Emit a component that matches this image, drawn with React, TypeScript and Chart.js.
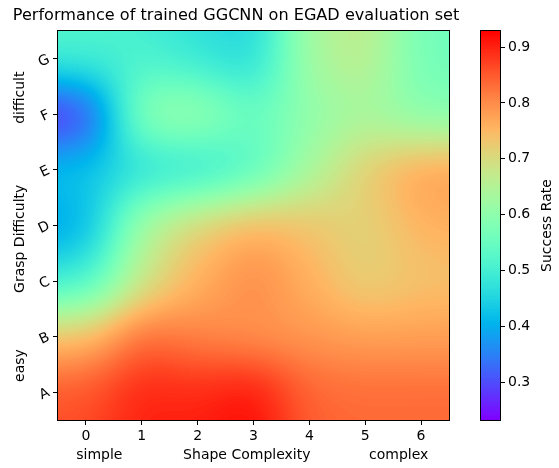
import React, { useEffect, useRef } from 'react';
import { Chart, registerables } from 'chart.js';

Chart.register(...registerables);

// ---- data ----
const TITLE = 'Performance of trained GGCNN on EGAD evaluation set';
const X_TICKS = [0, 1, 2, 3, 4, 5, 6];
const Y_TICK_LABELS = ['A', 'B', 'C', 'D', 'E', 'F', 'G'];
const X_TITLE = 'Shape Complexity';
const X_LOW = 'simple';
const X_HIGH = 'complex';
const Y_TITLE = 'Grasp Difficulty';
const Y_LOW = 'easy';
const Y_HIGH = 'difficult';
const CB_TITLE = 'Success Rate';

// success rate per grasp difficulty row (A = easy ... G = difficult), columns = shape complexity 0..6
const ROW_A = [0.86, 0.906, 0.9, 0.929, 0.84, 0.836, 0.837];
const ROW_B = [0.744, 0.844, 0.807, 0.785, 0.787, 0.778, 0.779];
const ROW_C = [0.48, 0.68, 0.76, 0.81, 0.76, 0.71, 0.736];
const ROW_D = [0.375, 0.65, 0.73, 0.77, 0.74, 0.705, 0.76];
const ROW_E = [0.437, 0.45, 0.45, 0.51, 0.63, 0.73, 0.79];
const ROW_F = [0.232, 0.63, 0.64, 0.55, 0.6, 0.63, 0.58];
const ROW_G = [0.523, 0.5, 0.47, 0.44, 0.64, 0.68, 0.555];
const ROWS = [ROW_A, ROW_B, ROW_C, ROW_D, ROW_E, ROW_F, ROW_G];

const CB_MIN = 0.232;
const CB_MAX = 0.929;
const CB_TICKS = [0.3, 0.4, 0.5, 0.6, 0.7, 0.8, 0.9];

const FONT = "'DejaVu Sans', sans-serif";

function rainbow(t: number): [number, number, number] {
  t = Math.max(0, Math.min(1, t));
  t = Math.round(t * 255) / 255;
  const r = Math.min(1, Math.abs(2 * t - 0.5));
  const g = Math.sin(Math.PI * t);
  const b = Math.cos((Math.PI * t) / 2);
  return [Math.round(r * 255), Math.round(g * 255), Math.round(b * 255)];
}

function kernel(d: number) {
  return Math.exp(-1.6 * d * d);
}

const heatmapPlugin = {
  id: 'heatmap',
  beforeDatasetsDraw(chart: any) {
    const { ctx, chartArea: a, scales } = chart;
    const xs = scales.x;
    const ys = scales.y;
    const pts = chart.data.datasets[0].data as { x: number; y: number; v: number }[];
    const cols = Array.from(new Set(pts.map((p) => p.x))).sort((p, q) => p - q);
    const rows = Array.from(new Set(pts.map((p) => p.y))).sort((p, q) => p - q);
    const M: number[][] = rows.map(() => cols.map(() => 0));
    pts.forEach((p) => {
      M[rows.indexOf(p.y)][cols.indexOf(p.x)] = p.v;
    });
    const w = Math.round(a.right - a.left);
    const h = Math.round(a.bottom - a.top);
    const off = document.createElement('canvas');
    off.width = w;
    off.height = h;
    const octx = off.getContext('2d')!;
    const img = octx.createImageData(w, h);
    const wxs: number[][] = [];
    for (let px = 0; px < w; px++) {
      const xv = xs.getValueForPixel(a.left + px + 0.5);
      const ws = cols.map((c) => kernel(xv - c));
      const s = ws.reduce((p, q) => p + q, 0);
      wxs.push(ws.map((v) => v / s));
    }
    for (let py = 0; py < h; py++) {
      const yv = ys.getValueForPixel(a.top + py + 0.5);
      const wy = rows.map((r) => kernel(yv - r));
      const sy = wy.reduce((p, q) => p + q, 0);
      const rowMix = cols.map((_, i) => {
        let s = 0;
        for (let j = 0; j < rows.length; j++) s += (wy[j] / sy) * M[j][i];
        return s;
      });
      for (let px = 0; px < w; px++) {
        const wx = wxs[px];
        let v = 0;
        for (let i = 0; i < cols.length; i++) v += wx[i] * rowMix[i];
        const [r, g, b] = rainbow((v - CB_MIN) / (CB_MAX - CB_MIN));
        const k = (py * w + px) * 4;
        img.data[k] = r;
        img.data[k + 1] = g;
        img.data[k + 2] = b;
        img.data[k + 3] = 255;
      }
    }
    octx.putImageData(img, 0, 0);
    ctx.save();
    ctx.drawImage(off, a.left, a.top);
    ctx.restore();
  },
  afterDraw(chart: any) {
    const { ctx, chartArea: a, scales } = chart;
    ctx.save();
    ctx.strokeStyle = '#000';
    ctx.lineWidth = 1;
    ctx.strokeRect(a.left - 0.5, a.top - 0.5, a.right - a.left + 1, a.bottom - a.top + 1);
    ctx.fillStyle = '#000';
    ctx.textAlign = 'center';
    ctx.textBaseline = 'middle';
    ctx.font = `16.1px ${FONT}`;
    ctx.fillText(TITLE, 236, 15.5);
    ctx.font = `14px ${FONT}`;
    const ly = 455;
    ctx.fillText(X_LOW, scales.x.getPixelForValue(0.24), ly);
    ctx.fillText(X_TITLE, scales.x.getPixelForValue(2.88), ly);
    ctx.fillText(X_HIGH, scales.x.getPixelForValue(5.6), ly);
    const lx = 20;
    [
      [Y_LOW, 0.48],
      [Y_TITLE, 2.76],
      [Y_HIGH, 5.3],
    ].forEach(([t, v]) => {
      ctx.save();
      ctx.translate(lx, scales.y.getPixelForValue(v as number));
      ctx.rotate(-Math.PI / 2);
      ctx.fillText(t as string, 0, 0);
      ctx.restore();
    });
    ctx.restore();
  },
};

const colorbarPlugin = {
  id: 'colorbar',
  beforeDatasetsDraw(chart: any) {
    const { ctx, chartArea: a, scales } = chart;
    const ys = scales.y;
    ctx.save();
    for (let py = Math.floor(a.top); py < Math.ceil(a.bottom); py++) {
      const v = ys.getValueForPixel(py + 0.5);
      const [r, g, b] = rainbow((v - CB_MIN) / (CB_MAX - CB_MIN));
      ctx.fillStyle = `rgb(${r},${g},${b})`;
      ctx.fillRect(a.left, py, a.right - a.left, 1);
    }
    ctx.restore();
  },
  afterDraw(chart: any) {
    const { ctx, chartArea: a } = chart;
    ctx.save();
    ctx.strokeStyle = '#000';
    ctx.lineWidth = 1;
    ctx.strokeRect(a.left - 0.5, a.top - 0.5, a.right - a.left + 1, a.bottom - a.top + 1);
    ctx.fillStyle = '#000';
    ctx.font = `14px ${FONT}`;
    ctx.textAlign = 'center';
    ctx.textBaseline = 'middle';
    ctx.translate(77, (a.top + a.bottom) / 2);
    ctx.rotate(-Math.PI / 2);
    ctx.fillText(CB_TITLE, 0, 0);
    ctx.restore();
  },
};

export default function App() {
  const mainRef = useRef<HTMLCanvasElement>(null);
  const cbRef = useRef<HTMLCanvasElement>(null);

  useEffect(() => {
    const points: { x: number; y: number; v: number }[] = [];
    ROWS.forEach((row, j) =>
      row.forEach((v, i) => points.push({ x: X_TICKS[i], y: j, v }))
    );
    const tickFont = { family: FONT, size: 14 };
    const main = new Chart(mainRef.current!, {
      type: 'scatter',
      data: {
        datasets: [
          {
            label: 'Success Rate',
            data: points as any,
            pointRadius: 0,
            pointHoverRadius: 0,
            showLine: false,
          },
        ],
      },
      options: {
        responsive: false,
        animation: false,
        events: [],
        layout: { padding: { left: 0, right: 23, top: 31, bottom: 0 } },
        plugins: {
          legend: { display: false },
          tooltip: { enabled: false },
          title: { display: false },
        },
        scales: {
          x: {
            type: 'linear',
            min: -0.5,
            max: 6.5,
            afterBuildTicks: (s: any) => {
              s.ticks = X_TICKS.map((v) => ({ value: v }));
            },
            afterFit: (s: any) => {
              s.height = 48;
            },
            ticks: {
              color: '#000',
              font: tickFont,
              padding: 3,
              maxRotation: 0,
              minRotation: 0,
              callback: (v: any) => String(v),
            },
            grid: { drawOnChartArea: false, drawTicks: true, tickLength: 5, color: '#000' },
            border: { display: false },
          },
          y: {
            type: 'linear',
            min: -0.5,
            max: 6.5,
            afterBuildTicks: (s: any) => {
              s.ticks = Y_TICK_LABELS.map((_, i) => ({ value: i }));
            },
            afterFit: (s: any) => {
              s.width = 58;
            },
            ticks: {
              color: '#000',
              font: tickFont,
              padding: 4,
              minRotation: 25,
              maxRotation: 25,
              callback: (v: any) => Y_TICK_LABELS[Math.round(v)] ?? '',
            },
            grid: { drawOnChartArea: false, drawTicks: true, tickLength: 5, color: '#000' },
            border: { display: false },
          },
        },
      } as any,
      plugins: [heatmapPlugin],
    });

    const cb = new Chart(cbRef.current!, {
      type: 'scatter',
      data: { datasets: [{ label: CB_TITLE, data: [], pointRadius: 0 }] },
      options: {
        responsive: false,
        animation: false,
        events: [],
        layout: { padding: { left: 11, right: 0, top: 31, bottom: 48 } },
        plugins: { legend: { display: false }, tooltip: { enabled: false }, title: { display: false } },
        scales: {
          x: { type: 'linear', display: false, min: 0, max: 1 },
          y: {
            type: 'linear',
            position: 'right',
            min: CB_MIN,
            max: CB_MAX,
            afterBuildTicks: (s: any) => {
              s.ticks = CB_TICKS.map((v) => ({ value: v }));
            },
            afterFit: (s: any) => {
              s.width = 59;
            },
            ticks: {
              color: '#000',
              font: tickFont,
              padding: 3,
              callback: (v: any) => Number(v).toFixed(1),
            },
            grid: { drawOnChartArea: false, drawTicks: true, tickLength: 5, color: '#000' },
            border: { display: false },
          },
        },
      } as any,
      plugins: [colorbarPlugin],
    });

    return () => {
      main.destroy();
      cb.destroy();
    };
  }, []);

  return (
    <div
      style={{
        position: 'fixed',
        left: 0,
        top: 0,
        width: 559,
        height: 468,
        background: '#fff',
        overflow: 'hidden',
      }}
    >
      <canvas
        ref={mainRef}
        width={472}
        height={468}
        style={{ position: 'absolute', left: 0, top: 0, width: 472, height: 468, display: 'block' }}
      />
      <canvas
        ref={cbRef}
        width={89}
        height={468}
        style={{ position: 'absolute', left: 470, top: 0, width: 89, height: 468, display: 'block' }}
      />
    </div>
  );
}
